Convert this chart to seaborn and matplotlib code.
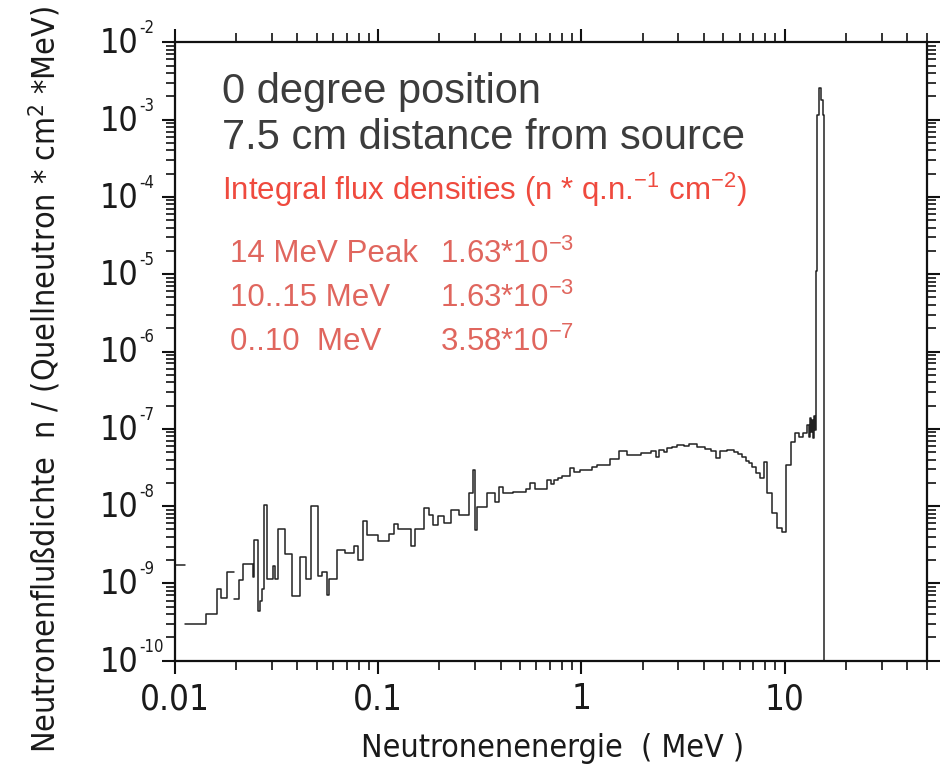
import numpy as np
import pandas as pd
import matplotlib
matplotlib.use("Agg")
import matplotlib.pyplot as plt
from matplotlib import font_manager
from matplotlib.font_manager import FontProperties
from matplotlib.ticker import FixedLocator, LogLocator, NullFormatter
import seaborn as sns

# ---------------- data ----------------
energy_edges = [
    0.0100, 0.01120, 0.01120, 0.01417, 0.01605, 0.01680, 0.01797, 0.01960, 0.01960,
    0.02074, 0.02156, 0.02414, 0.02459, 0.02555, 0.02623, 0.02692, 0.02754, 0.02849,
    0.03029, 0.03109, 0.03228, 0.03483, 0.03758, 0.04128, 0.04420, 0.04677, 0.05046,
    0.05317, 0.05589, 0.05756, 0.06261, 0.06878, 0.07642, 0.07997, 0.08406, 0.08796,
    0.09921, 0.1124, 0.1195, 0.1251, 0.1442, 0.1521, 0.1672, 0.1769, 0.1851, 0.1960,
    0.2097, 0.2282, 0.2487, 0.2786, 0.2929, 0.3006, 0.3065, 0.3432, 0.3771, 0.3946,
    0.4114, 0.4587, 0.5341, 0.5609, 0.5889, 0.6777, 0.7116, 0.7362, 0.7642, 0.8033,
    0.8757, 0.9163, 0.9887, 1.129, 1.195, 1.378, 1.527, 1.680, 1.953, 2.187, 2.315,
    2.403, 2.544, 2.644, 2.798, 2.961, 3.191, 3.378, 3.716, 4.036, 4.320, 4.572,
    4.800, 5.221, 5.628, 5.889, 6.190, 6.426, 6.671, 6.933, 7.197, 7.557, 7.908,
    8.219, 8.699, 9.133, 9.743, 10.11, 10.70, 11.24, 11.76, 12.36, 12.94, 13.13,
    13.28, 13.43, 13.58, 13.74, 13.90, 14.05, 14.21, 14.46, 14.71, 15.13, 15.39,
    15.65, 16.10,
]
flux = [
    1.73e-9, np.nan, 2.96e-10, 3.99e-10, 8.54e-10, 6.53e-10, 1.42e-9, np.nan,
    6.28e-10, 1.11e-9, 1.80e-9, 1.21e-9, 3.64e-9, 4.40e-10, 5.92e-10, 8.46e-10,
    1.04e-8, 1.13e-9, 1.68e-9, 1.13e-9, 5.10e-9, 2.42e-9, 6.93e-10, 2.22e-9,
    1.15e-9, 1.00e-8, 1.26e-9, 1.42e-9, 7.08e-10, 1.14e-9, 2.70e-9, 2.45e-9,
    3.07e-9, 2.01e-9, 6.47e-9, 4.19e-9, 3.57e-9, 4.36e-9, 5.87e-9, 5.01e-9,
    3.07e-9, 5.01e-9, 9.37e-9, 7.67e-9, 5.69e-9, 7.44e-9, 6.10e-9, 8.90e-9,
    7.60e-9, 1.46e-8, 2.93e-8, 4.91e-9, 9.82e-9, 1.46e-8, 1.14e-8, 1.78e-8,
    1.46e-8, 1.54e-8, 1.65e-8, 2.01e-8, 1.65e-8, 2.18e-8, 1.93e-8, 2.18e-8,
    2.33e-8, 2.45e-8, 3.14e-8, 2.79e-8, 2.93e-8, 3.18e-8, 3.40e-8, 4.03e-8,
    5.21e-8, 4.58e-8, 4.82e-8, 5.16e-8, 4.36e-8, 5.32e-8, 5.05e-8, 5.59e-8,
    5.87e-8, 6.12e-8, 5.99e-8, 6.36e-8, 5.87e-8, 5.48e-8, 5.16e-8, 4.23e-8,
    5.16e-8, 5.32e-8, 5.05e-8, 4.72e-8, 4.28e-8, 3.87e-8, 3.58e-8, 3.18e-8,
    2.70e-8, 2.29e-8, 3.75e-8, 1.46e-8, 8.07e-9, 5.16e-9, 4.67e-9, 3.40e-8,
    6.81e-8, 8.74e-8, 7.90e-8, 8.74e-8, 1.12e-7, 7.83e-8, 1.38e-7, 9.09e-8,
    1.30e-7, 7.60e-8, 1.46e-7, 9.65e-8, 1.10e-5, 1.15e-3, 2.56e-3, 1.80e-3,
    1.15e-3, 1.0e-12,
]

x_tick_values = [0.01, 0.1, 1, 10]
x_tick_labels = ["0.01", "0.1", "1", "10"]
y_exponents = [-10, -9, -8, -7, -6, -5, -4, -3, -2]

title_lines = ["0 degree position", "7.5 cm distance from source"]
integral_title = r"Integral flux densities (n * q.n.$^{\mathregular{-1}}$ cm$^{\mathregular{-2}}$)"
range_labels = ["14 MeV Peak", "10..15 MeV", "0..10  MeV"]
range_values = [r"1.63*10$^{\mathregular{-3}}$", r"1.63*10$^{\mathregular{-3}}$", r"3.58*10$^{\mathregular{-7}}$"]

# ---------------- long-form table for seaborn ----------------
rows = []
seg = 0
for i, v in enumerate(flux):
    if np.isnan(v):
        seg += 1
        continue
    rows.append((energy_edges[i], v, seg))
    if i + 1 == len(flux) or np.isnan(flux[i + 1]):
        rows.append((energy_edges[i + 1], v, seg))
df = pd.DataFrame(rows, columns=["E", "F", "seg"])

# ---------------- style ----------------
sns.set_theme(style="ticks")
plt.rcParams["font.family"] = ["Liberation Sans", "DejaVu Sans"]
plt.rcParams["mathtext.fontset"] = "custom"
plt.rcParams["mathtext.rm"] = "Liberation Sans"
plt.rcParams["mathtext.it"] = "Liberation Sans"


def narrow_props(size):
    cands = []
    for f in font_manager.fontManager.ttflist:
        nm = f.name + " " + str(f.fname)
        is_narrow = ("Narrow" in nm or "Condensed" in nm or
                     str(f.stretch) in ("condensed", "semi-condensed"))
        bold = "Bold" in str(f.fname) or (isinstance(f.weight, int) and f.weight >= 600)
        ital = f.style != "normal" or "Oblique" in str(f.fname) or "Italic" in str(f.fname)
        if is_narrow and not bold and not ital:
            pri = 0 if "Liberation" in nm else (1 if "Sans" in nm else 2)
            cands.append((pri, f.fname))
    if cands:
        cands.sort()
        return FontProperties(fname=cands[0][1], size=size), True
    return FontProperties(family="Liberation Sans", size=size), False


fig = plt.figure(figsize=(9.46, 7.74), dpi=100)
ax = fig.add_axes([175 / 946, 1 - 660.7 / 774, (926.7 - 175) / 946, (660.7 - 42.3) / 774])
ax.set_xscale("log")
ax.set_yscale("log")

sns.lineplot(data=df, x="E", y="F", units="seg", estimator=None, sort=False,
             drawstyle="steps-post", color="#222222", linewidth=1.1, ax=ax, legend=False)

ax.set_xlim(0.01, 50)
ax.set_ylim(1e-10, 1e-2)

for s in ax.spines.values():
    s.set_linewidth(1.6)
    s.set_color("#111111")

tick_fp, found = narrow_props(25)
ax.xaxis.set_major_locator(FixedLocator(x_tick_values))
ax.set_xticklabels(x_tick_labels, fontproperties=tick_fp, color="#1a1a1a")
ax.xaxis.set_minor_locator(LogLocator(base=10, subs=np.arange(2, 10), numticks=20))
ax.xaxis.set_minor_formatter(NullFormatter())

ax.yaxis.set_major_locator(FixedLocator([10.0 ** e for e in y_exponents]))
ax.yaxis.set_major_formatter(NullFormatter())
ax.yaxis.set_minor_locator(LogLocator(base=10, subs=np.arange(2, 10), numticks=20))
ax.yaxis.set_minor_formatter(NullFormatter())

ax.tick_params(which="both", direction="out", top=True, right=True, color="#111111")
ax.tick_params(which="major", length=9.5, width=1.5, pad=6)
ax.tick_params(which="minor", length=6.5, width=1.2)
ax.set_xlabel("")
ax.set_ylabel("")

# y tick labels: "10" with a small raised exponent
base_fp, _ = narrow_props(24.5)
exp_fp, _ = narrow_props(12)
for e in y_exponents:
    ax.annotate("10", xy=(0, 10.0 ** e), xycoords=("axes fraction", "data"),
                xytext=(-37, -1.5), textcoords="offset pixels", ha="right", va="center",
                fontproperties=base_fp, color="#1a1a1a", annotation_clip=False)
    ax.annotate("%d" % e, xy=(0, 10.0 ** e), xycoords=("axes fraction", "data"),
                xytext=(-36, 5), textcoords="offset pixels", ha="left", va="bottom",
                fontproperties=exp_fp, color="#1a1a1a", annotation_clip=False)

lab_fp, _ = narrow_props(23 if found else 22)
fig.text(553 / 946, 1 - 748 / 774, "Neutronenenergie  ( MeV )", ha="center", va="center",
         fontproperties=lab_fp, color="#1a1a1a")
fig.text(45 / 946, 1 - 380 / 774,
         r"Neutronenflußdichte  n / (Quellneutron * cm$^{\mathregular{2}}$ *MeV)",
         rotation=90, ha="center", va="center", fontproperties=lab_fp, color="#1a1a1a")

# annotations
for txt, yp in zip(title_lines, [92, 138]):
    fig.text(222 / 946, 1 - yp / 774, txt, ha="left", va="center", fontsize=30, color="#3c3c3c")
fig.text(222 / 946, 1 - 190 / 774, integral_title, ha="left", va="center", fontsize=22.5,
         color="#ef4a3e")
for lab, val, yp in zip(range_labels, range_values, [254, 298, 342]):
    fig.text(230 / 946, 1 - yp / 774, lab, ha="left", va="center", fontsize=22.5, color="#e0665e")
    fig.text(440 / 946, 1 - yp / 774, val, ha="left", va="center", fontsize=22.5, color="#e0665e")

fig.savefig("out.png", dpi=100)
